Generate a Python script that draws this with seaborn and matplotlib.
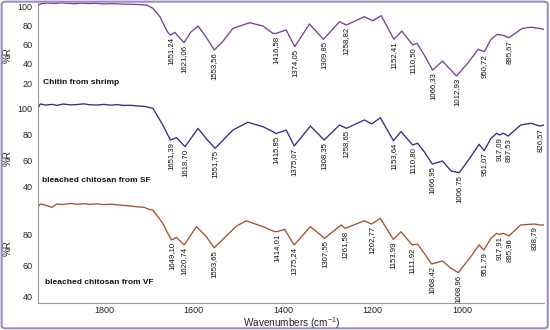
import numpy as np
import pandas as pd
import seaborn as sns
import matplotlib
matplotlib.use("Agg")
import matplotlib.pyplot as plt
from matplotlib.patches import FancyBboxPatch

# ---------------- data ----------------
chitin_wn = [1947, 1940, 1925, 1910, 1895, 1880, 1865, 1850, 1835, 1820, 1800, 1780, 1760,
             1740, 1720, 1704, 1690.6, 1675, 1664, 1657, 1651.24, 1641.7, 1621.06, 1606,
             1589.8, 1572, 1553.56, 1535, 1512, 1474.6, 1445, 1422.8, 1416.58, 1393,
             1374.05, 1341, 1309.85, 1274, 1258.82, 1218.5, 1200, 1181, 1152.41, 1135,
             1110.5, 1101, 1085, 1066.33, 1044, 1012.93, 988, 964.5, 950.72, 936, 921.8,
             908, 895.67, 866, 847, 830, 817.6]
chitin_r = [100.3, 102.5, 103.2, 102.6, 103.3, 102.8, 102.4, 103.0, 102.6, 102.8, 102.2, 102.5, 102.0,
            101.8, 101.5, 101.0, 97.6, 89.0, 78.6, 72.5, 70.0, 72.7, 62.0, 73.0,
            79.3, 68.0, 54.5, 63.0, 76.9, 82.7, 79.3, 71.7, 71.5, 75.2,
            57.9, 81.4, 65.5, 83.8, 80.3, 88.9, 84.8, 90.0, 65.5, 74.1,
            59.6, 61.4, 49.3, 33.7, 43.0, 27.5, 40.7, 55.2, 52.7, 65.5, 70.7,
            69.5, 67.2, 76.9, 78.0, 77.0, 75.8]

sf_wn = [1947, 1942, 1930, 1915, 1905, 1890, 1875, 1860, 1845, 1830, 1815, 1800, 1785,
         1770, 1755, 1740, 1725, 1710, 1690.6, 1668.4, 1657.3, 1651.39, 1637.9, 1618.7,
         1589.8, 1570, 1551.75, 1512, 1478.6, 1445, 1422.7, 1415.85, 1393, 1375.07, 1339,
         1308.35, 1274, 1258.65, 1218.5, 1202, 1183, 1153.64, 1136.8, 1110.8, 1099.8,
         1085, 1066.95, 1044, 1025, 1006.75, 981, 962.6, 951.07, 936, 923, 917.09, 908,
         897.53, 869.6, 847, 826.57, 817.6]
sf_r = [100.0, 103.3, 102.5, 103.0, 102.2, 103.3, 102.6, 102.9, 103.4, 102.7, 102.5, 103.0, 102.4,
        102.8, 102.2, 102.3, 101.8, 101.5, 100.0, 87.1, 79.4, 75.5, 77.3, 70.4,
        84.5, 76.0, 69.1, 83.2, 89.2, 85.8, 82.0, 80.5, 83.2, 70.9, 86.3,
        75.5, 87.1, 84.5, 91.0, 87.9, 92.7, 75.0, 82.0, 71.7, 73.0,
        66.5, 57.0, 59.3, 51.6, 50.3, 62.6, 72.2, 67.3, 76.8, 80.7, 79.4, 80.7,
        78.6, 87.1, 88.4, 86.3, 87.1]

vf_wn = [1947, 1942, 1932, 1916, 1905, 1890, 1875, 1860, 1845, 1830, 1815, 1800, 1785,
         1770, 1755, 1740, 1725, 1710, 1699, 1690.6, 1668.4, 1657.3, 1649.1, 1637.9,
         1620.74, 1593.4, 1572, 1553.65, 1504, 1482, 1445, 1422.7, 1414.01, 1396.7,
         1375.24, 1339, 1307.55, 1270, 1261.58, 1218.5, 1202.77, 1183, 1153.99, 1136.8,
         1111.92, 1099.8, 1085, 1068.42, 1044, 1025, 1008.96, 981, 962.6, 951.79, 936,
         923, 917.91, 908, 895.96, 869.6, 838.79, 828, 817.6]
vf_r = [98.0, 99.8, 99.2, 97.7, 99.8, 99.5, 100.2, 99.7, 100.0, 99.6, 99.9, 99.4, 99.7,
        99.3, 98.9, 98.5, 98.0, 97.7, 96.4, 95.9, 87.3, 80.9, 76.6, 78.3,
        73.4, 85.2, 79.0, 71.6, 85.6, 89.0, 85.2, 82.4, 81.9, 83.5,
        73.4, 85.2, 77.7, 86.3, 84.1, 89.0, 86.9, 90.6, 77.0, 81.9,
        73.4, 74.0, 68.0, 61.1, 63.0, 58.3, 55.5, 65.8, 73.4, 70.1, 77.7,
        80.9, 80.2, 80.9, 79.2, 86.3, 86.9, 86.3, 86.3]

chitin_peaks = ["1651,24", "1621,06", "1553,56", "1416,58", "1374,05", "1309,85", "1258,82",
                "1152,41", "1110,50", "1066,33", "1012,93", "950,72", "895,67"]
sf_peaks = ["1651,39", "1618,70", "1551,75", "1415,85", "1375,07", "1308,35", "1258,65",
            "1153,64", "1110,80", "1066,95", "1006,75", "951,07", "917,09", "897,53", "826,57"]
vf_peaks = ["1649,10", "1620,74", "1553,65", "1414,01", "1375,24", "1307,55", "1261,58",
            "1202,77", "1153,99", "1111,92", "1068,42", "1008,96", "951,79", "917,91",
            "895,96", "838,79"]

series_names = ["Chitin from shrimp", "bleached chitosan from SF", "bleached chitosan from VF"]
x_ticks = [1800, 1600, 1400, 1200, 1000]

# ---------------- style ----------------
sns.set_style("white")
plt.rcParams["font.family"] = ["Liberation Sans", "DejaVu Sans"]

W, H = 550, 330
fig = plt.figure(figsize=(W / 100, H / 100), dpi=100)

left_px, right_px = 38, 544
panels = [  # (top px, bottom px, ylim, yticks, color, ylabel y)
    (1, 97, (5.8, 105.2), [20, 40, 60, 80, 100], "#7a4196", 0.44),
    (97, 196, (32.3, 108.7), [40, 60, 80, 100], "#2e2e8e", 0.385),
    (196, 303, (35.9, 105.0), [40, 60, 80], "#a8502e", 0.51),
]
datasets = [(chitin_wn, chitin_r, chitin_peaks),
            (sf_wn, sf_r, sf_peaks),
            (vf_wn, vf_r, vf_peaks)]
label_pos = [(43, 82), (42, 180), (45, 282)]

axes = []
for i, ((top, bot, ylim, yt, col, ylab_y), (wn, rr, pk)) in enumerate(zip(panels, datasets)):
    ax = fig.add_axes([left_px / W, 1 - bot / H, (right_px - left_px) / W, (bot - top) / H])
    ax.set_facecolor("none")
    df = pd.DataFrame({"wn": wn, "R": rr})
    sns.lineplot(data=df, x="wn", y="R", ax=ax, color=col, lw=0.95, sort=False,
                 estimator=None)
    ax.set_xlim(1947, 817.6)
    ax.set_ylim(*ylim)
    ax.set_yticks(yt)
    ax.tick_params(axis="y", labelsize=6.5, length=2, width=0.6, color="#999999",
                   labelcolor="#222222", pad=2)
    ax.set_ylabel("%R", fontsize=7, color="#222222")
    ax.yaxis.set_label_coords(-0.05, ylab_y)
    for s in ["top", "right", "bottom"]:
        ax.spines[s].set_visible(False)
    ax.spines["left"].set_color("#999999")
    ax.spines["left"].set_linewidth(0.8)
    ax.set_xlabel("")
    if i < 2:
        ax.set_xticks([])
    else:
        ax.set_xticks(x_ticks)
        ax.set_xticks(np.arange(850, 1950, 50), minor=True)
        ax.spines["bottom"].set_visible(True)
        ax.spines["bottom"].set_color("#999999")
        ax.spines["bottom"].set_linewidth(0.8)
        ax.tick_params(axis="x", which="major", labelsize=6.5, length=3, width=0.6,
                       direction="inout", color="#999999", labelcolor="#222222", pad=1)
        ax.tick_params(axis="x", which="minor", length=2, width=0.5,
                       direction="inout", color="#bbbbbb")
    # peak labels
    for p in pk:
        x = float(p.replace(",", "."))
        y = float(np.interp(x, wn[::-1], rr[::-1]))
        ax.annotate(p, xy=(x, y), xytext=(0, -1.5), textcoords="offset points",
                    rotation=90, ha="center", va="top", fontsize=5.6, color="#111111",
                    annotation_clip=False, clip_on=False)
    axes.append(ax)

for name, (px, py) in zip(series_names, label_pos):
    fig.text(px / W, 1 - py / H, name, fontsize=6, fontweight="bold",
             ha="left", va="center", color="#111111")

fig.text(292 / W, 1 - 323 / H, r"Wavenumbers (cm$^{\mathregular{-1}}$)", fontsize=7.2,
         ha="center", va="center", color="#222222")

border = FancyBboxPatch((0.003, 0.005), 0.993, 0.99,
                        boxstyle="round,pad=0,rounding_size=0.008",
                        transform=fig.transFigure, fill=False,
                        edgecolor="#9b8dbd", lw=1.5)
fig.patches.append(border)

fig.savefig("out.png", dpi=100)
